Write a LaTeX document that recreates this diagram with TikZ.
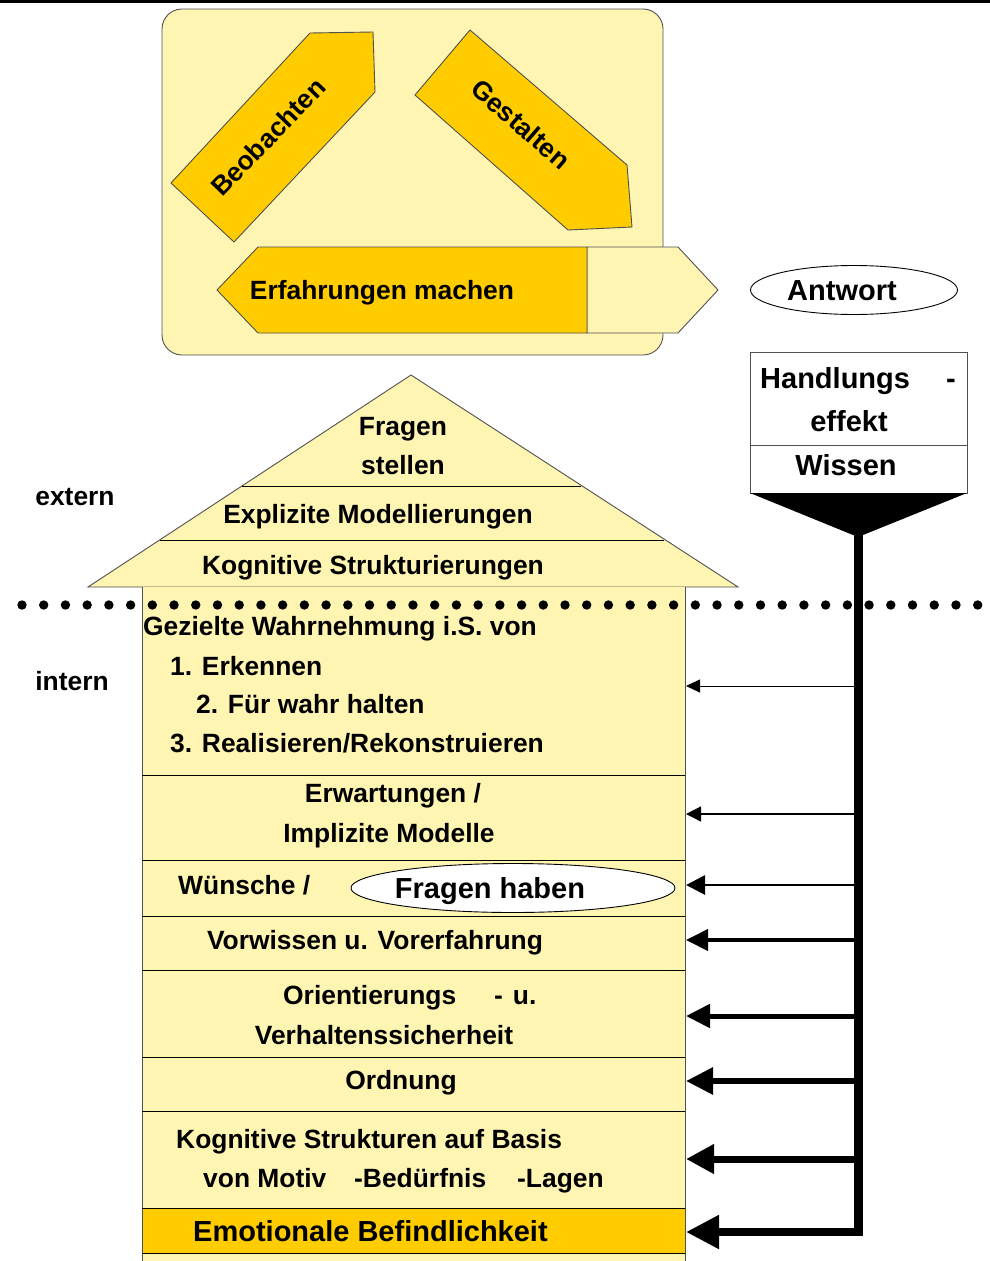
\documentclass[tikz,border=0pt]{standalone}
\usepackage{fontspec}
\setmainfont{Liberation Sans}
\usetikzlibrary{arrows.meta,shapes.geometric}
\definecolor{ly}{HTML}{FFF5B3}
\definecolor{org}{HTML}{FFCC00}
\definecolor{edge}{HTML}{505050}
\tikzset{
  txt/.style={font=\fontsize{26.4}{30}\selectfont\bfseries, inner sep=0pt, anchor=base},
  bigtxt/.style={font=\fontsize{29}{33}\selectfont\bfseries, inner sep=0pt, anchor=base},
  shapeline/.style={draw=edge, line width=0.9pt},
  divline/.style={draw=black, line width=0.9pt},
  fb/.style n args={3}{line width=#1, -{Triangle[length=#2,width=#3]}}
}
\begin{document}
\begin{tikzpicture}[x=1pt,y=-1pt]
\useasboundingbox (0,0) rectangle (990,1261);
\fill[white] (0,0) rectangle (990,1261);
% top rule
\draw[line width=3pt] (0,1) -- (990,1);

% upper rounded panel
\draw[shapeline, fill=ly, rounded corners=20pt] (162,9) rectangle (663,355);
% Beobachten arrow
\draw[shapeline, fill=org] (310,33) -- (373,32) -- (375,92) -- (234,242) -- (171,183) -- cycle;
\node[txt, anchor=center, rotate=46] (beob) at (268,137) {Beobachten};
% Gestalten arrow
\draw[shapeline, fill=org] (470,30) -- (627,165) -- (632,227) -- (568,230) -- (415,95) -- cycle;
\node[txt, anchor=center, rotate=-41] (gest) at (521,124) {Gestalten};
% Erfahrungen machen
\draw[shapeline, fill=ly] (587,247) -- (678,247) -- (718,290) -- (678,333) -- (587,333) -- cycle;
\draw[shapeline, fill=org] (587,247) -- (258,247) -- (217,290) -- (258,333) -- (587,333) -- cycle;
\node[txt] (erf) at (382,299) {Erfahrungen machen};

% Antwort
\node[ellipse, draw=black, line width=0.9pt, fill=white, minimum width=207pt, minimum height=49pt, inner sep=0pt] (antw) at (854,290) {};
\node[bigtxt] (antwT) at (842,300) {Antwort};

% Handlungseffekt box
\draw[shapeline, fill=white] (750,352) rectangle (967,493);
\draw[shapeline] (750,445) -- (967,445);
\node[bigtxt, anchor=base west] (hand) at (760,388) {Handlungs};
\node[bigtxt] (handD) at (951,388) {-};
\node[bigtxt] (eff) at (849,431) {effekt};
\node[bigtxt] (wiss) at (846,475) {Wissen};
% funnel
\fill[black] (750,493) -- (967,493) -- (863,535) -- (853,535) -- cycle;

% pyramid
\draw[shapeline, fill=ly] (411,375) -- (738,587) -- (88,587) -- cycle;
\draw[divline] (242,486) -- (581,486);
\draw[divline] (160,540) -- (664,540);
\node[txt] (fr1) at (403,435) {Fragen};
\node[txt] (fr2) at (403,474) {stellen};
\node[txt] (expl) at (378,523) {Explizite Modellierungen};
\node[txt] (kogS) at (373,574) {Kognitive Strukturierungen};

\node[txt] (ext) at (75,505) {extern};
\node[txt] (int) at (72,690) {intern};

% main box
\fill[ly] (142,587) rectangle (685,1275);
\fill[org] (142,1208) rectangle (685,1253);
\draw[shapeline] (142,587) -- (142,1275);
\draw[shapeline] (685,587) -- (685,1275);
\foreach \yy in {775,860,916,970,1057,1111,1208,1253}
  \draw[divline] (142,\yy) -- (685,\yy);

\node[txt, anchor=base west] (gez) at (143,635) {Gezielte Wahrnehmung i.S. von};
\node[txt, anchor=base west] (g1) at (170,675) {1. Erkennen};
\node[txt, anchor=base west] (g2) at (196,713) {2. Für wahr halten};
\node[txt, anchor=base west] (g3) at (170,752) {3. Realisieren/Rekonstruieren};
\node[txt] (erw1) at (393,802) {Erwartungen /};
\node[txt] (erw2) at (389,842) {Implizite Modelle};
\node[txt, anchor=base west] (wun) at (178,894) {Wünsche /};
\node[ellipse, draw=black, line width=0.9pt, fill=white, minimum width=324pt, minimum height=49pt, inner sep=0pt] (frh) at (513,888) {};
\node[bigtxt] (frhT) at (490,898) {Fragen haben};
\node[txt] (vorw) at (375,949) {Vorwissen u. Vorerfahrung};
\node[txt, anchor=base west] (or1) at (283,1004) {Orientierungs};
\node[txt, anchor=base west] (or2) at (494,1004) {-\hspace{10pt}u.};
\node[txt] (or3) at (384,1044) {Verhaltenssicherheit};
\node[txt] (ord) at (401,1089) {Ordnung};
\node[txt, anchor=base west] (kb1) at (176,1148) {Kognitive Strukturen auf Basis};
\node[txt, anchor=base west] (kb2) at (203,1187) {von Motiv};
\node[txt, anchor=base west] (kb3) at (354,1187) {-Bedürfnis};
\node[txt, anchor=base west] (kb4) at (517,1187) {-Lagen};
\node[bigtxt, anchor=base west] (emo) at (193,1241) {Emotionale Befindlichkeit};

% dotted separator
\foreach \i in {0,...,44}
  \fill[black] (22+\i*21.72,605) circle (4.7);

% thick feedback line
\draw[line width=9pt] (858,533) -- (858,1236);
\coordinate (s1) at (854,686);  \coordinate (t1) at (686,686);
\coordinate (s2) at (854,814);  \coordinate (t2) at (686,814);
\coordinate (s3) at (854,885);  \coordinate (t3) at (686,885);
\coordinate (s4) at (854,940);  \coordinate (t4) at (686,940);
\coordinate (s5) at (854,1016); \coordinate (t5) at (686,1016);
\coordinate (s6) at (854,1081); \coordinate (t6) at (686,1081);
\coordinate (s7) at (854,1159); \coordinate (t7) at (686,1159);
\coordinate (s8) at (862.5,1232); \coordinate (t8) at (686,1232);
\draw[fb={1pt}{14pt}{13pt}] (s1) -- (t1);
\draw[fb={1.3pt}{15pt}{15pt}] (s2) -- (t2);
\draw[fb={2.8pt}{19pt}{19pt}] (s3) -- (t3);
\draw[fb={4pt}{22pt}{21pt}] (s4) -- (t4);
\draw[fb={5pt}{24pt}{23pt}] (s5) -- (t5);
\draw[fb={6pt}{27pt}{26pt}] (s6) -- (t6);
\draw[fb={7pt}{28pt}{28pt}] (s7) -- (t7);
\draw[fb={8pt}{33pt}{32pt}] (s8) -- (t8);
\end{tikzpicture}
\end{document}
